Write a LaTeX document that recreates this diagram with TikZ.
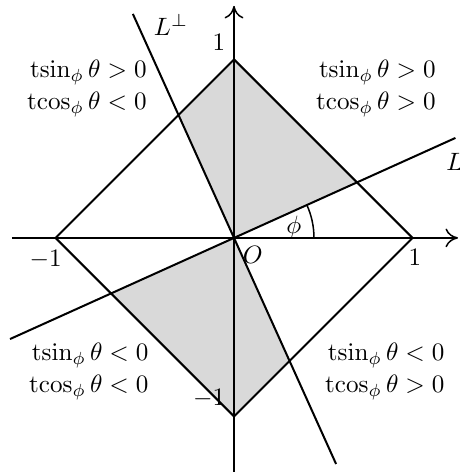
\documentclass[tikz,border=0pt]{standalone}
\usepackage{amsmath}
\usetikzlibrary{arrows.meta}
\newcommand\tsinop{\operatorname{tsin}}
\newcommand\tcosop{\operatorname{tcos}}
\tikzset{
  axisline/.style={semithick,-{To[length=5pt,width=7.5pt]}},
  shapeline/.style={thick},
  quadtext/.style={align=right,inner sep=0pt,anchor=east},
  shade/.style={fill=gray!30,draw=none}
}
\begin{document}
\begin{tikzpicture}[x=2.5cm,y=2.5cm]
\useasboundingbox (-1.311,-1.317) rectangle (1.266,1.333);
\pgfmathsetmacro\ang{24.3}
\pgfmathsetmacro\rr{1/(cos(\ang)+sin(\ang))}
\coordinate (O) at (0,0);
\coordinate (E) at (1,0);
\coordinate (N) at (0,1);
\coordinate (W) at (-1,0);
\coordinate (S) at (0,-1);
\coordinate (P1) at (\ang:\rr);
\coordinate (P2) at (\ang+90:\rr);
\coordinate (P3) at (\ang+180:\rr);
\coordinate (P4) at (\ang+270:\rr);
% shaded sectors
\fill[shade] (O) -- (P1) -- (N) -- (P2) -- cycle;
\fill[shade] (O) -- (P3) -- (S) -- (P4) -- cycle;
% axes
\coordinate (xl) at (-1.244,0);
\coordinate (xr) at (1.255,0);
\coordinate (yb) at (0,-1.31);
\coordinate (yt) at (0,1.30);
\draw[axisline] (xl) -- (xr);
\draw[axisline] (yb) -- (yt);
% diamond
\draw[shapeline] (E) -- (N) -- (W) -- (S) -- cycle;
% lines L and L perp
\coordinate (La) at (\ang+180:1.377);
\coordinate (Lb) at (\ang:1.361);
\coordinate (Ma) at (\ang+90:1.377);
\coordinate (Mb) at (\ang+270:1.39);
\draw[shapeline] (La) -- (Lb);
\draw[shapeline] (Ma) -- (Mb);
% angle arc
\draw[semithick] (0.448,0) arc[start angle=0,end angle=\ang,radius=0.448];
\node (phi) at (0.335,0.058) {$\phi$};
% labels
\node[below right] (Olab) at (O) {$O$};
\node[above left] (Nlab) at (N) {$1$};
\node[above left] (Slab) at (S) {$-1$};
\node[inner sep=0pt] (Elab) at (1.014,-0.112) {$1$};
\node[inner sep=0pt] (Wlab) at (-1.055,-0.123) {$-1$};
\node[inner sep=0pt] (Llab) at (1.238,0.426) {$L$};
\node[inner sep=0pt] (Mlab) at (-0.353,1.193) {$L^\perp$};
% quadrant conditions
\node[quadtext] (q1) at (1.132,0.8375) {$\tsinop_\phi\theta>0$\\[1pt]$\tcosop_\phi\theta>0$};
\node[quadtext] (q2) at (-0.487,0.8375) {$\tsinop_\phi\theta>0$\\[1pt]$\tcosop_\phi\theta<0$};
\node[quadtext] (q3) at (-0.476,-0.748) {$\tsinop_\phi\theta<0$\\[1pt]$\tcosop_\phi\theta<0$};
\node[quadtext] (q4) at (1.182,-0.748) {$\tsinop_\phi\theta<0$\\[1pt]$\tcosop_\phi\theta>0$};
\end{tikzpicture}
\end{document}
